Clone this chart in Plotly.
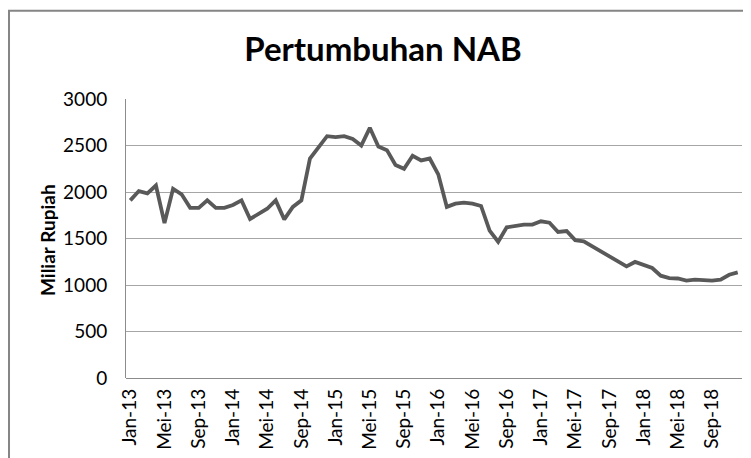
import plotly.graph_objects as go

bulan = ["Jan", "Feb", "Mar", "Apr", "Mei", "Jun", "Jul", "Agu", "Sep", "Okt", "Nov", "Des"]
tahun = ["13", "14", "15", "16", "17", "18"]
kategori = [f"{b}-{t}" for t in tahun for b in bulan]

nab = [
    1910, 2010, 1985, 2070, 1665, 2035, 1975, 1830, 1830, 1910, 1830, 1830,
    1860, 1910, 1710, 1760, 1820, 1910, 1705, 1840, 1910, 2360, 2480, 2600,
    2590, 2600, 2570, 2500, 2690, 2490, 2450, 2290, 2250, 2390, 2340, 2360,
    2190, 1840, 1875, 1885, 1875, 1850, 1585, 1465, 1620, 1640, 1650, 1650,
    1685, 1670, 1570, 1580, 1482, 1470, 1415, 1363, 1302, 1255, 1200, 1248,
    1212, 1183, 1100, 1075, 1070, 1047, 1057, 1047, 1047, 1057, 1110, 1136,
]

y_ticks = [0, 500, 1000, 1500, 2000, 2500, 3000]

idx = list(range(len(kategori)))
tick_idx = idx[::4]
tick_lbl = [kategori[i] for i in tick_idx]

# page body has an 8px default margin; figure is sized to fit the window
W, H = 743, 450
L, R, T, B = 118, 9, 91, 80
pw, ph = W - L - R, H - T - B
FONT = "Lato, Carlito, Calibri, sans-serif"

fig = go.Figure()
fig.add_trace(go.Scatter(
    x=idx, y=nab, mode="lines",
    line=dict(color="#595959", width=3.8),
    hoverinfo="skip", showlegend=False,
))

fig.update_layout(
    width=W, height=H,
    margin=dict(l=L, r=R, t=T, b=B, pad=0),
    paper_bgcolor="white", plot_bgcolor="white",
    font=dict(family=FONT, color="#000000", size=19),
    title=dict(
        text="<b>Pertumbuhan NAB</b>",
        x=375 / W, xanchor="center",
        y=1 - 41 / H, yanchor="middle",
        font=dict(size=33, family=FONT, color="#000000"),
    ),
    xaxis=dict(
        range=[-0.5, len(kategori) - 0.5],
        tickmode="array", tickvals=tick_idx, ticktext=tick_lbl,
        tickangle=-90, showgrid=False, zeroline=False,
        showline=False, ticks="", ticklabelstandoff=6,
        tickfont=dict(size=19),
    ),
    yaxis=dict(
        range=[0, 3000],
        tickmode="array", tickvals=y_ticks,
        showgrid=True, gridcolor="#a6a6a6", gridwidth=1,
        zeroline=True, zerolinecolor="#8c8c8c", zerolinewidth=1,
        showline=True, linecolor="#8c8c8c", linewidth=1,
        ticks="", ticklabelstandoff=14,
        tickfont=dict(size=19),
    ),
    annotations=[dict(
        text="<b>Miliar Rupiah</b>", textangle=-90,
        xref="paper", yref="paper",
        x=(39 - L) / pw, y=(370 - 232) / ph,
        xanchor="center", yanchor="middle", showarrow=False,
        font=dict(size=19, color="#000000"),
    )],
    shapes=[dict(
        type="rect", xref="paper", yref="paper",
        x0=(1 - L) / pw, x1=(W + 20 - L) / pw,
        y0=(370 - (H + 20)) / ph, y1=(370 - 2.7) / ph,
        line=dict(color="#858585", width=2), fillcolor="rgba(0,0,0,0)",
        layer="below",
    )],
)

fig.write_html("out.html")
